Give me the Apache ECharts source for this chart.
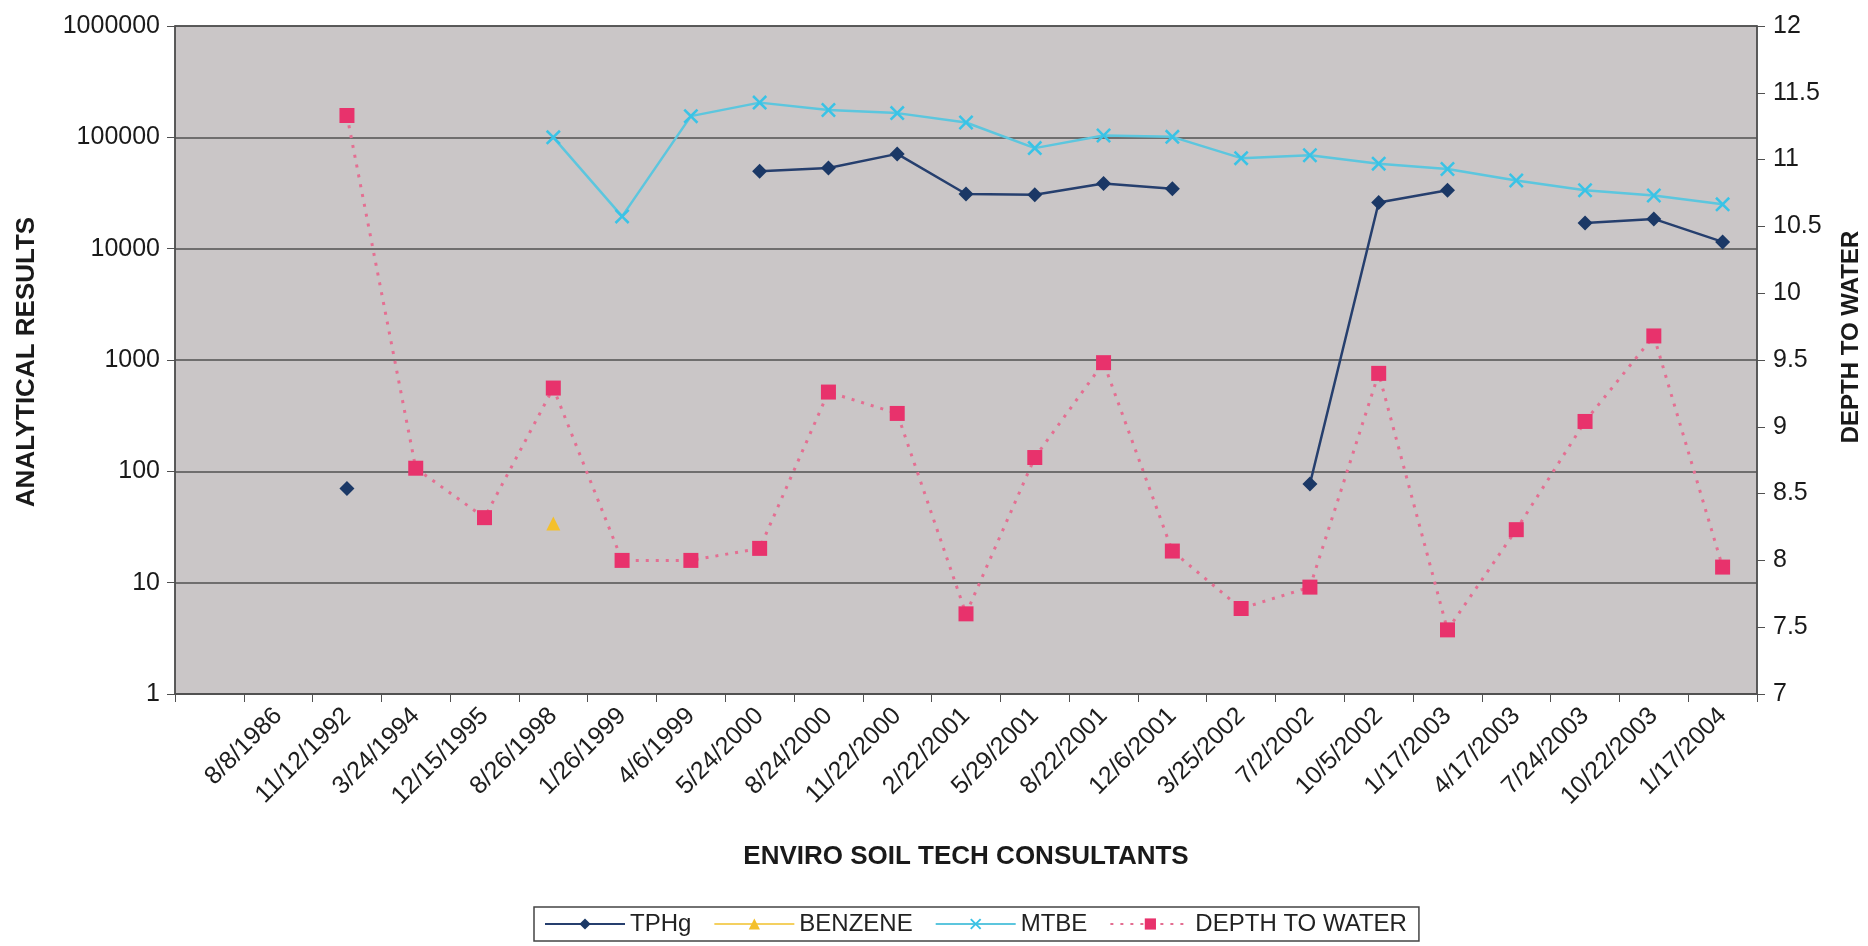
<!DOCTYPE html>
<html>
<head>
<meta charset="utf-8">
<script src="https://cdn.jsdelivr.net/npm/echarts@6/dist/echarts.min.js"></script>
<style>
  html, body { margin: 0; padding: 0; background: #ffffff; }
  #chart { width: 1868px; height: 946px; }
</style>
</head>
<body>
<div id="chart"></div>
<script>
// ---- data ----
const categories = ['', '8/8/1986', '11/12/1992', '3/24/1994', '12/15/1995', '8/26/1998', '1/26/1999',
  '4/6/1999', '5/24/2000', '8/24/2000', '11/22/2000', '2/22/2001', '5/29/2001', '8/22/2001',
  '12/6/2001', '3/25/2002', '7/2/2002', '10/5/2002', '1/17/2003', '4/17/2003', '7/24/2003',
  '10/22/2003', '1/17/2004'];

const tphg = [null, null, 70, null, null, null, null, null, 49500, 53000, 71000, 31000, 30500,
  38500, 34500, null, 77, 26000, 33500, null, 17000, 18500, 11500];

const benzene = [null, null, null, null, null, 34, null, null, null, null, null, null, null,
  null, null, null, null, null, null, null, null, null, null];

const mtbe = [null, null, null, null, null, 100000, 19500, 155000, 205000, 176000, 165000, 136000,
  80000, 104000, 101000, 65000, 69000, 58000, 52000, 41000, 33500, 30000, 25000];

const depthToWater = [null, null, 11.33, 8.69, 8.32, 9.29, 8.0, 8.0, 8.09, 9.26, 9.1, 7.6,
  8.77, 9.48, 8.07, 7.64, 7.8, 9.4, 7.48, 8.23, 9.04, 9.68, 7.95];

const leftTicks = [1, 10, 100, 1000, 10000, 100000, 1000000];
const rightMin = 7, rightMax = 12, rightStep = 0.5;

// ---- chart ----
const chart = echarts.init(document.getElementById('chart'));
const FONT = 'Liberation Sans, Arial, sans-serif';
const xMark = 'path://M0,1.2 L1.2,0 L5,3.8 L8.8,0 L10,1.2 L6.2,5 L10,8.8 L8.8,10 L5,6.2 L1.2,10 L0,8.8 L3.8,5 Z';

chart.setOption({
  animation: false,
  backgroundColor: '#ffffff',
  textStyle: { fontFamily: FONT },
  grid: {
    left: 175, right: 111, top: 26, bottom: 252,
    show: true, backgroundColor: '#cac6c7', borderColor: '#505050', borderWidth: 1.5
  },
  legend: {
    left: 534, top: 907,
    padding: [5, 12, 5, 10],
    borderColor: '#444444', borderWidth: 1.5, backgroundColor: '#ffffff',
    itemWidth: 80, itemHeight: 14, itemGap: 22,
    textStyle: { fontSize: 24, color: '#222222', fontFamily: FONT },
    data: ['TPHg', 'BENZENE', 'MTBE', 'DEPTH TO WATER']
  },
  xAxis: {
    type: 'category',
    data: categories,
    boundaryGap: true,
    axisLine: { show: true, lineStyle: { color: '#505050', width: 1.5 } },
    axisTick: { show: true, interval: 0, length: 8, lineStyle: { color: '#505050' } },
    axisLabel: { interval: 0, rotate: 45, fontSize: 25, color: '#1e1e1e', margin: 18, fontFamily: FONT },
    splitLine: { show: false },
    name: 'ENVIRO SOIL TECH CONSULTANTS',
    nameLocation: 'middle',
    nameGap: 150,
    nameTextStyle: { fontSize: 26, fontWeight: 'bold', color: '#1a1a1a', fontFamily: FONT }
  },
  yAxis: [
    {
      type: 'log', logBase: 10,
      min: leftTicks[0], max: leftTicks[leftTicks.length - 1],
      splitNumber: 6,
      axisLine: { show: true, lineStyle: { color: '#505050', width: 1.5 } },
      axisTick: { show: true, length: 8, lineStyle: { color: '#505050' } },
      axisLabel: { fontSize: 25, color: '#1a1a1a', margin: 15, fontFamily: FONT,
        formatter: function (v) { return String(Math.round(v)); } },
      splitLine: { show: true, lineStyle: { color: '#505050', width: 1.5 } }
    },
    {
      type: 'value',
      min: rightMin, max: rightMax, interval: rightStep,
      axisLine: { show: true, lineStyle: { color: '#505050', width: 1.5 } },
      axisTick: { show: true, length: 8, lineStyle: { color: '#505050' } },
      axisLabel: { fontSize: 25, color: '#1a1a1a', margin: 16, fontFamily: FONT,
        formatter: function (v) { return String(v); } },
      splitLine: { show: false }
    }
  ],
  graphic: [
    { type: 'text', x: 27, y: 362, rotation: Math.PI / 2,
      style: { text: 'ANALYTICAL RESULTS', fontSize: 26, fontWeight: 'bold', fill: '#1a1a1a',
        fontFamily: FONT, align: 'center', verticalAlign: 'middle' } },
    { type: 'text', x: 1851, y: 337, rotation: Math.PI / 2,
      style: { text: 'DEPTH TO WATER', fontSize: 24, fontWeight: 'bold', fill: '#1a1a1a',
        fontFamily: FONT, align: 'center', verticalAlign: 'middle' } }
  ],
  series: [
    {
      name: 'TPHg', type: 'line', yAxisIndex: 0, data: tphg, connectNulls: false,
      symbol: 'diamond', symbolSize: 15, showAllSymbol: true,
      itemStyle: { color: '#1b3866' },
      lineStyle: { color: '#263f6e', width: 2.5 },
      z: 4
    },
    {
      name: 'BENZENE', type: 'line', yAxisIndex: 0, data: benzene, connectNulls: false,
      symbol: 'triangle', symbolSize: 14, showAllSymbol: true,
      itemStyle: { color: '#f4c02c' },
      lineStyle: { color: '#f4d060', width: 2.5 },
      z: 3
    },
    {
      name: 'MTBE', type: 'line', yAxisIndex: 0, data: mtbe, connectNulls: false,
      symbol: xMark, symbolSize: 15, showAllSymbol: true,
      itemStyle: { color: '#39c3e6' },
      lineStyle: { color: '#5cc6de', width: 2.5 },
      z: 3
    },
    {
      name: 'DEPTH TO WATER', type: 'line', yAxisIndex: 1, data: depthToWater, connectNulls: false,
      symbol: 'rect', symbolSize: 15, showAllSymbol: true,
      itemStyle: { color: '#e8326c' },
      lineStyle: { color: '#e46f92', width: 3, type: [3, 7] },
      z: 2
    }
  ]
});
</script>
</body>
</html>
